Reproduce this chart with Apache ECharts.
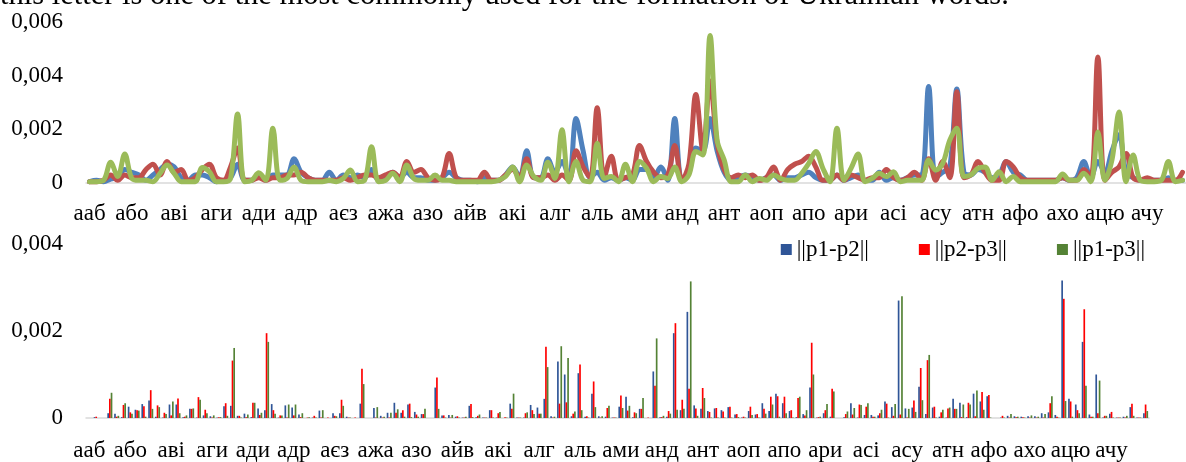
<!DOCTYPE html>
<html><head><meta charset="utf-8">
<script src="https://cdn.jsdelivr.net/npm/echarts@6/dist/echarts.min.js"></script>
<style>html,body{margin:0;padding:0;background:#fff}#c{width:1186px;height:462px}</style>
</head><body><div id="c"></div>
<script>
const tickLabels = ['ааб','або','аві','аги','ади','адр','аєз','ажа','азо','айв','акі','алг','аль','ами','анд','ант','аоп','апо','ари','асі','асу','атн','афо','ахо','ацю','ачу'];
const categoryCount = 156;
const seriesNames = ['||p1-p2||','||p2-p3||','||p1-p3||'];
const headerText = 'this letter is one of the most commonly used for the formation of Ukrainian words.';

// top line chart
const topBlue = [0.00005,0.0001,0.00005,0.00015,0.0002,0.0005,0.0004,0.0003,0.0001,0.0003,0.0005,0.0007,0.0006,0.0002,0.0001,0.0003,0.0003,0.0002,0.00005,0.0001,0.0002,0.0007,0.0001,0.0001,0.0003,0.0001,0.0003,0.0003,0.0003,0.0009,0.0004,0.0002,0.0001,0.0001,0.0004,0.0001,0.0003,0.0002,0.0003,0.0002,0.0005,0.0001,0.0002,0.0004,0.0002,0.0004,0.0002,0.0002,0.0001,0.0001,0.0002,0.0004,0.0002,0.0001,0.0001,0.00005,0.0002,0.0001,0.0001,0.0003,0.0006,0.0002,0.0012,0.0002,0.0002,0.0009,0.0004,0.0008,0.0002,0.0024,0.0012,0.0002,0.0004,0.0001,0.0002,0.0001,0.0002,0.0001,0.0005,0.0005,0.0002,0.0006,0.0001,0.0024,0.0001,0.0004,0.0013,0.0012,0.0024,0.0012,0.0004,0.0001,0.0002,0.0003,0.0002,0.0001,0.0002,0.0003,0.0001,0.0002,0.0002,0.0003,0.0004,0.0002,0.0001,0.0001,0.0003,0.0001,0.0002,0.0003,0.0001,0.0001,0.0004,0.0001,0.0002,0.0001,0.0002,0.0003,0.0003,0.0036,0.0002,0.0004,0.0006,0.0035,0.0004,0.0003,0.0005,0.0004,0.0002,0.0003,0.0008,0.0004,0.0003,0.0001,0.0001,0.0001,0.0001,0.0001,0.0002,0.0001,0.0002,0.0008,0.0002,0.0008,0.0004,0.0012,0.0018,0.0004,0.0002,0.0001,0.0001,0.0001,0.0001,0.0002,0.0001,0.0001];
const topRed = [0.00005,0.00005,0.0001,0.0003,0.0001,0.0003,0.0002,0.0002,0.0005,0.0007,0.0003,0.0008,0.0004,0.0005,0.0001,0.0002,0.0005,0.0007,0.0002,0.0001,0.0006,0.0013,0.0001,0.0001,0.0002,0.0001,0.0002,0.0002,0.0003,0.0003,0.0004,0.0002,0.0001,0.0001,0.0001,0.0001,0.0002,0.0001,0.0002,0.0003,0.0003,0.0002,0.0003,0.0004,0.0002,0.0008,0.0004,0.0005,0.0002,0.0001,0.0002,0.0011,0.0002,0.0001,0.0001,0.0001,0.0004,0.0001,0.0001,0.0003,0.0005,0.0002,0.0009,0.0002,0.0002,0.0003,0.0001,0.0003,0.0001,0.0012,0.0006,0.0002,0.0028,0.0002,0.001,0.0001,0.0002,0.0003,0.0014,0.0008,0.0004,0.0002,0.0003,0.0014,0.0001,0.0007,0.0033,0.0012,0.0038,0.0015,0.0005,0.0002,0.0003,0.0002,0.0003,0.0001,0.0002,0.0006,0.0001,0.0005,0.0007,0.0008,0.001,0.0006,0.0001,0.0001,0.0003,0.0001,0.0003,0.0002,0.0001,0.0002,0.0002,0.0005,0.0002,0.0001,0.0002,0.0004,0.0001,0.0009,0.0001,0.0008,0.0002,0.0034,0.0002,0.0003,0.0008,0.0004,0.0001,0.0001,0.0008,0.0006,0.0002,0.0001,0.0001,0.0001,0.0001,0.0001,0.0002,0.0001,0.0001,0.0005,0.0002,0.0047,0.0001,0.0004,0.0006,0.0011,0.0002,0.0001,0.0002,0.0001,0.0001,0.0001,0.0001,0.0004];
const topGreen = [0.00005,0.00005,0.0001,0.00077,0.00024,0.00108,0.00017,0.0001,0.0001,0.00005,0.00036,0.00067,0.00036,0.00005,0.00005,0.00005,0.00058,0.00042,0.00005,0.00005,0.00017,0.00257,0.00005,0.0001,0.00038,0.0001,0.00204,0.0001,0.00017,0.0006,0.0001,0.00005,0.00005,0.00005,0.0001,0.00005,0.00017,0.00048,0.00005,0.0001,0.00135,0.00005,0.0001,0.00036,0.00005,0.00067,0.00017,0.0001,0.0001,0.0003,0.0001,0.0001,0.00005,0.00005,0.00005,0.00005,0.00005,0.00005,0.0001,0.00024,0.0006,0.00005,0.00067,0.00024,0.0001,0.00077,0.00017,0.00198,0.00005,0.0008,0.0001,0.00005,0.00148,0.00017,0.00024,0.00005,0.0007,0.00005,0.0008,0.00055,0.00005,0.00024,0.00017,0.0006,0.00005,0.0003,0.00117,0.00104,0.0055,0.0016,0.00086,0.00005,0.00005,0.0003,0.00005,0.00017,0.0001,0.0003,0.00017,0.0001,0.0001,0.00036,0.00073,0.00117,0.00055,0.00005,0.00204,0.0001,0.00055,0.00108,0.00005,0.00017,0.00036,0.00024,0.00042,0.00005,0.0001,0.0001,0.0001,0.00086,0.00048,0.00073,0.0016,0.00204,0.00024,0.0003,0.00055,0.0006,0.0001,0.00042,0.00005,0.00024,0.00005,0.00005,0.00005,0.00005,0.00005,0.00005,0.00034,0.0001,0.0001,0.00036,0.00005,0.0019,0.0001,0.00086,0.00265,0.00005,0.00104,0.0001,0.00005,0.00005,0.0001,0.0008,0.00005,0.0001];

// bottom bar chart
const barBlue = [0,0.00002,0,0.00011,0.0001,0.00002,0.00026,0.00019,0.00032,0.0004,0.00003,0.00001,0.00031,0.00031,0.00002,0.00021,0.00001,0.00006,0.00004,0.00001,0.00027,0.00028,0.00005,0.0001,0.00002,0.00022,0.00018,0.00032,0.00001,0.00029,0.00024,0.00008,0,0.00001,0.00017,0,0.00011,0.00011,0.00003,0,0.00033,0,0.00023,0.00005,0.00012,0.00035,0.00012,0.00031,0.00014,0.00009,0,0.0007,0.00006,0.00007,0.00003,0.00001,0.00028,0.00002,0.00001,0.00018,0.00001,0,0.00033,0.00001,0.00001,0.0003,0.00024,0.00044,0.00004,0.0013,0.001,0.00004,0.00103,0.00003,0.00056,0.00004,0.00003,0.00001,0.00026,0.00049,0.00002,0.00021,0,0.00107,0.00002,0.00003,0.00195,0.00018,0.00244,0.00029,0.00021,0.00016,0.00022,0.00018,0.00025,0.00008,0.00001,0.00016,0.00008,0.00034,0.00016,0.00056,0.00034,0.00016,0.00002,0.00009,0.0007,0.00001,0.00011,0.00003,0,0.00002,0.00034,0.00001,0.00007,0.00007,0.00006,0.00038,0.00025,0.0027,0.00022,0.00024,0.00072,0.00009,0.00024,0.00003,0.00001,0.00044,0.00035,0.00002,0.00056,0.00038,0.0005,0,0.00001,0.00005,0.00004,0.00003,0.00004,0.00004,0.00011,0.00013,0.00007,0.00316,0.00044,0.00031,0.00175,0.00008,0.001,0.00001,0.0001,0.00001,0.00003,0.00025,0.00001,0.00011];
const barRed = [0,0.00003,0,0.00044,0.00003,0.0003,0.00013,0.00018,0.00027,0.00064,0.00029,0.00012,0.00006,0.00045,0.00003,0.00021,0.00048,0.00019,0.00001,0.00002,0.00034,0.00132,0.00005,0.00002,0.00035,0.00007,0.00195,0.00018,0.00006,0.00001,0.00006,0.00002,0.00001,0.00005,0.00001,0.00001,0.00005,0.00042,0.00001,0.00001,0.00113,0,0.00001,0.00001,0.00001,0.00012,0.00018,0.00033,0.00008,0.00009,0,0.00093,0.00006,0.00001,0.00004,0.00001,0.00032,0.00005,0.00001,0.00018,0.00011,0.00002,0.00021,0.00001,0.00011,0.00018,0.0001,0.00164,0.00001,0.00033,0.00036,0.0001,0.00123,0.00004,0.00084,0.00001,0.00023,0.00001,0.00052,0.00017,0.00013,0.00021,0.00001,0.00074,0.00002,0.00016,0.00218,0.00042,0.00067,0.00022,0.00069,0.00014,0.00023,0.00015,0.00026,0.00009,0.00003,0.00026,0.00009,0.00021,0.00049,0.0005,0.00049,0.00018,0.00046,0.00006,0.00173,0.00002,0.00018,0.00067,0,0.00009,0.00008,0.00031,0.00026,0.00003,0.00011,0.00033,0.00005,0.00008,0.00001,0.0004,0.00115,0.00133,0.00026,0.00013,0.00022,0.00021,0.00002,0.00035,0.00004,0.0006,0.00053,0,0.00005,0.00001,0.00002,0.00002,0.00001,0.00001,0.00001,0.00034,0.00003,0.00274,0.00038,0.00018,0.0025,0.00003,0.00011,0.00005,0.00014,0.00001,0.00001,0.00033,0.00001,0.00031];
const barGreen = [0,0,0,0.00058,0.00005,0.00034,0.0001,0.00017,0.00003,0.00021,0.00025,0.00009,0.00038,0.00011,0.00006,0.00022,0.00042,0.00011,0.00006,0.00002,0.00005,0.00161,0.00001,0.00008,0.00035,0.00012,0.00175,0.0001,0.00006,0.00031,0.00031,0.00011,0.00002,0.00001,0.00018,0,0.00004,0.00028,0.00001,0,0.00078,0,0.00025,0.00003,0.00012,0.0002,0.00003,0.00002,0.00003,0.00021,0,0.00021,0.00001,0.00007,0.00001,0.00003,0.00002,0.00008,0.00001,0.00001,0.00014,0.00001,0.00056,0.00001,0.00013,0.00009,0.0001,0.00117,0.00003,0.00165,0.00138,0.00015,0.00018,0.00001,0.00025,0.00004,0.00028,0.00001,0.00023,0.00028,0.00011,0.00046,0,0.00183,0.00005,0.0001,0.00019,0.00021,0.00314,0.00005,0.00046,0.00001,0.00001,0.00001,0.00001,0.00002,0.00001,0.00007,0.00001,0.0001,0.00031,0.00003,0.00011,0.00001,0.00049,0.00018,0.001,0.00003,0.00032,0.00061,0,0.00015,0.00023,0.0003,0.00034,0.00003,0.00019,0.00001,0.00032,0.0028,0.00021,0.00014,0.00041,0.00145,0.00001,0.00019,0.00024,0.00021,0.00031,0.00031,0.00063,0.00019,0.00001,0,0.00001,0.00009,0.00003,0.00001,0.00006,0.00003,0.00009,0.0005,0.00001,0.00039,0.00003,0.00011,0.00074,0.00003,0.00086,0.00005,0.00001,0.00001,0.00005,0.00005,0.00001,0.00016];

const categories = Array.from({length: categoryCount}, (_, i) => i % 6 === 0 ? tickLabels[i / 6] : '');
const FONT = '"Liberation Serif","Times New Roman",serif';
const fmt = v => v === 0 ? '0' : v.toFixed(3).replace('.', ',');

const chart = echarts.init(document.getElementById('c'), null, {renderer: 'canvas'});
const xAxisBase = (gi, margin) => ({
  type: 'category', gridIndex: gi, data: categories, boundaryGap: true,
  axisLine: {show: true, lineStyle: {color: '#D9D9D9', width: 1.5}},
  axisTick: {show: false},
  axisLabel: {interval: 5, margin: margin, color: '#000', fontFamily: FONT, fontSize: 23}
});
const yAxisBase = (gi, max) => ({
  type: 'value', gridIndex: gi, min: 0, max: max, interval: 0.002,
  splitLine: {show: false}, axisLine: {show: false}, axisTick: {show: false},
  axisLabel: {margin: 23, color: '#000', fontFamily: FONT, fontSize: 23, formatter: fmt}
});
const lineColors = ['#4F81BD', '#C0504D', '#9BBB59'];
const barColors = ['#2F5597', '#FF0000', '#548235'];
const topData = [topBlue, topRed, topGreen];
const barData = [barBlue, barRed, barGreen];

chart.setOption({
  animation: false,
  backgroundColor: '#fff',
  graphic: [{type: 'text', x: 0, y: 11, style: {text: headerText, font: '30.5px ' + FONT, fill: '#000', verticalAlign: 'bottom'}}],
  legend: {
    data: seriesNames, right: 36, top: 233, itemWidth: 11, itemHeight: 11, itemGap: 50,
    icon: 'rect', textStyle: {fontFamily: FONT, fontSize: 23, color: '#000'}
  },
  grid: [
    {left: 86, right: 0, top: 22, height: 161},
    {left: 86, right: 37, top: 244, height: 175}
  ],
  xAxis: [xAxisBase(0, 19), xAxisBase(1, 21)],
  yAxis: [yAxisBase(0, 0.006), yAxisBase(1, 0.004)],
  series: [
    ...topData.map((d, k) => ({
      type: 'line', name: 'top' + k, xAxisIndex: 0, yAxisIndex: 0, data: d,
      smooth: 0.35, showSymbol: false, symbol: 'none',
      lineStyle: {color: lineColors[k], width: 5, cap: 'round', join: 'round'}, z: 2 + k
    })),
    ...barData.map((d, k) => ({
      type: 'bar', name: seriesNames[k], xAxisIndex: 1, yAxisIndex: 1, data: d,
      barGap: '0%', barCategoryGap: '26%', itemStyle: {color: barColors[k]}
    }))
  ]
});
</script></body></html>
